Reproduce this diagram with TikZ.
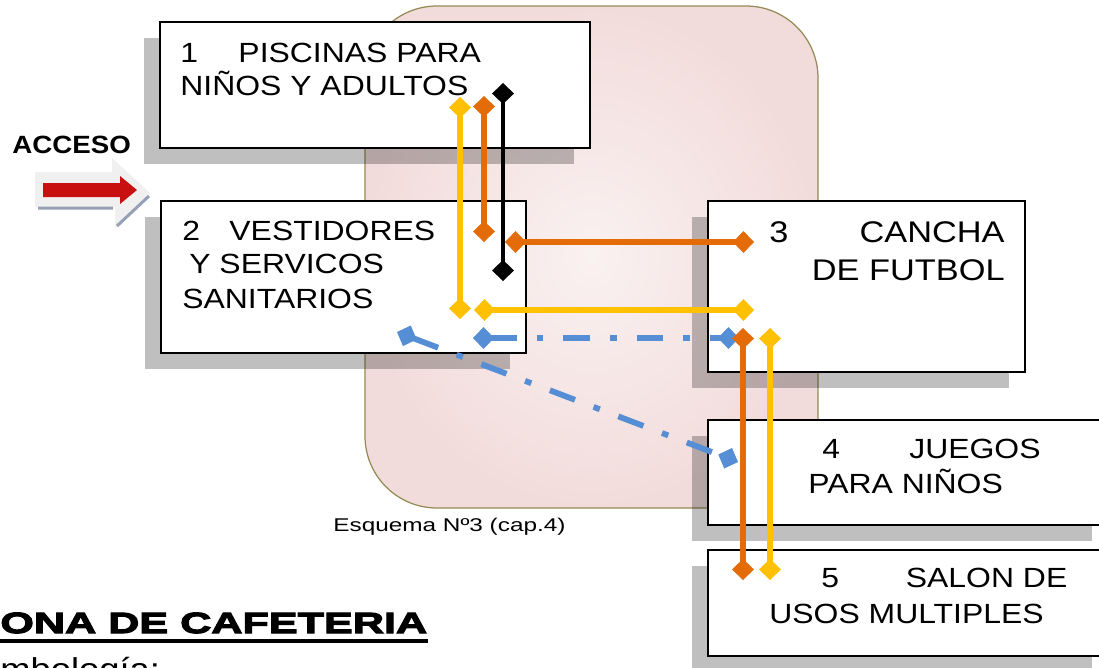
\documentclass[tikz,border=0pt]{standalone}
\usepackage{fontspec}
\setmainfont{Liberation Sans}
\newfontfamily\boxfont{Liberation Sans}[FakeStretch=1.15]
\newfontfamily\capfont{Liberation Sans}[FakeStretch=1.32]
\newfontfamily\accfont{Liberation Sans}[FakeStretch=1.11]
\newfontfamily\heavyfont{Liberation Sans}[FakeStretch=1.48,FakeBold=4]
\usetikzlibrary{arrows.meta,positioning,shadows,calc}
\definecolor{linkyellow}{RGB}{255,192,0}
\definecolor{linkorange}{RGB}{227,108,9}
\definecolor{linkblue}{RGB}{85,142,213}
\definecolor{bgpink}{RGB}{242,220,219}
\definecolor{bglight}{RGB}{250,241,241}
\definecolor{bgedge}{RGB}{148,138,84}
\definecolor{accred}{RGB}{200,16,16}
\definecolor{arrowlight}{RGB}{240,240,240}
\definecolor{arrowshade}{RGB}{150,160,180}

\begin{document}
\begin{tikzpicture}[x=0.02cm, y=-0.02cm,
      link/.style={{Diamond[length=12pt,width=12.5pt]}-{Diamond[length=12pt,width=12.5pt]},
                   line width=3.3pt},
      dashlink/.style={link, draw=linkblue,
                   dash pattern=on 15.3pt off 11.3pt on 3.8pt off 11.3pt},
      area/.style={draw=black, line width=1.1pt, fill=white, inner sep=0pt,
                   outer sep=0pt, anchor=north west,
                   drop shadow={shadow xshift=-9pt, shadow yshift=-9pt,
                                fill=black, opacity=0.25}},
      lbl/.style={font=\boxfont\fontsize{15.8}{19}\selectfont, inner sep=0pt,
                  anchor=base west},
      biglbl/.style={lbl, font=\boxfont\fontsize{17}{20}\selectfont}
    ]
    \useasboundingbox (0,0) rectangle (1099,667);
    % BACK: zone of the cafeteria
    \shadedraw[draw=bgedge, line width=0.7pt, rounded corners=1.44cm,
               inner color=bglight, outer color=bgpink] (365,6) rectangle (818,508);
    \node[font=\capfont\fontsize{10.5}{13}\selectfont, inner sep=0pt,
          anchor=base west] (esq) at (333,531) {Esquema Nº3 (cap.4)};
    % ACCESO arrow
    \fill[arrowlight] (35,172) -- (112,172) -- (112,158) -- (150,193)
      -- (115,228) -- (115,207) -- (35,207) -- cycle;
    \draw[arrowshade, line width=1.7pt] (38,208) -- (113,208) (117,226) -- (149,196);
    \fill[accred] (43,183) -- (120,183) -- (120,176) -- (137,190)
      -- (120,204) -- (120,197) -- (43,197) -- cycle;
    \node[font=\accfont\bfseries\fontsize{14.2}{17}\selectfont, inner sep=0pt,
          anchor=base west] (acceso) at (12,153) {ACCESO};
    % the five areas
    \node[area, minimum width=8.6cm, minimum height=2.52cm] (b1) at (160,22) {};
    \node[area, minimum width=7.3cm, minimum height=3.04cm] (b2) at (161,201) {};
    \node[area, minimum width=6.34cm, minimum height=3.42cm] (b3) at (708,201) {};
    \node[area, minimum width=8cm, minimum height=2.1cm] (b4) at (708,420) {};
    \node[area, minimum width=8cm, minimum height=2.12cm] (b5) at (708,550) {};
    \node[lbl] (t1a) at (180,62) {1\hspace{23pt}PISCINAS PARA};
    \node[lbl] (t1b) at (180,95) {NIÑOS Y ADULTOS};
    \node[lbl] (t2a) at (182,240) {2\hspace{16.7pt}VESTIDORES};
    \node[lbl] (t2b) at (189,273) {Y SERVICOS};
    \node[lbl] (t2c) at (182,308) {SANITARIOS};
    \node[biglbl] (t3a) at (769,242) {3};
    \node[biglbl, anchor=base east] (t3b) at (1005,242) {CANCHA};
    \node[biglbl, anchor=base east] (t3c) at (1005,280) {DE FUTBOL};
    \node[lbl] (t4a) at (822,458) {4\hspace{39.4pt}JUEGOS};
    \node[lbl] (t4b) at (808,493) {PARA NIÑOS};
    \node[lbl] (t5a) at (821,587) {5\hspace{38pt}SALON DE};
    \node[lbl] (t5b) at (769,623) {USOS MULTIPLES};
    % link ends
    \coordinate (y12a) at (460,97);  \coordinate (y12b) at (460,319);
    \coordinate (o12a) at (484,96);  \coordinate (o12b) at (484,242);
    \coordinate (k12a) at (503,83);  \coordinate (k12b) at (503,281);
    \coordinate (o23a) at (505,242); \coordinate (o23b) at (754,242);
    \coordinate (y23a) at (474,310); \coordinate (y23b) at (754,310);
    \coordinate (u23a) at (473,338); \coordinate (u23b) at (739,338);
    \coordinate (u24a) at (397,332); \coordinate (u24b) at (738,462);
    \coordinate (o35a) at (743,328); \coordinate (o35b) at (743,580);
    \coordinate (y35a) at (770,328); \coordinate (y35b) at (770,580);
    % links
    \draw[link, draw=linkyellow] (y12a) -- (y12b);
    \draw[link, draw=linkorange] (o12a) -- (o12b);
    \draw[link, line width=2.8pt] (k12a) -- (k12b);
    \draw[link, draw=linkorange] (o23a) -- (o23b);
    \draw[link, draw=linkyellow] (y23a) -- (y23b);
    \draw[dashlink] (u23a) -- (u23b);
    \draw[dashlink] (u24a) -- (u24b);
    \draw[link, draw=linkorange] (o35a) -- (o35b);
    \draw[link, draw=linkyellow] (y35a) -- (y35b);
    % BOTTOM: title and legend
    \node[font=\heavyfont\bfseries\fontsize{16.6}{20}\selectfont, inner sep=0pt,
          anchor=base west] (zona) at (0,633) {ONA DE CAFETERIA};
    \draw[line width=2.2pt] ([yshift=-4.5pt]zona.base west) -- ([yshift=-4.5pt]zona.base east);
    \node[font=\boxfont\fontsize{18}{22}\selectfont, inner sep=0pt,
          anchor=base west] (simb) at (0,680) {mbología:};
  \end{tikzpicture}
\end{document}
